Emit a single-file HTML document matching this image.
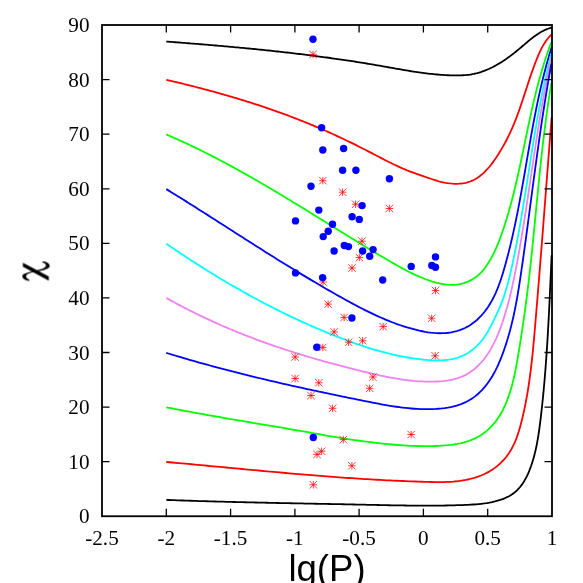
<!DOCTYPE html>
<html><head><meta charset="utf-8"><title>chart</title>
<style>html,body{margin:0;padding:0;background:#fff;overflow:hidden}svg{display:block}text{font-family:"Liberation Serif",serif;font-size:21.2px;fill:#000}.s{font-family:"Liberation Sans",sans-serif}</style></head>
<body>
<svg width="583" height="583" viewBox="0 0 583 583">
<rect width="583" height="583" fill="#fff"/>
<g fill="none" stroke-width="1.8" stroke-linejoin="round" stroke-linecap="butt">
<path d="M166.30,41.55 L168.13,41.69 L169.96,41.82 L171.78,41.96 L173.61,42.10 L175.44,42.24 L177.27,42.38 L179.09,42.52 L180.92,42.67 L182.75,42.81 L184.57,42.95 L186.40,43.09 L188.23,43.24 L190.05,43.38 L191.88,43.53 L193.71,43.67 L195.53,43.82 L197.36,43.97 L199.19,44.12 L201.01,44.27 L202.84,44.42 L204.67,44.57 L206.49,44.72 L208.32,44.87 L210.14,45.03 L211.97,45.18 L213.80,45.34 L215.62,45.49 L217.45,45.65 L219.27,45.81 L221.10,45.97 L222.92,46.13 L224.75,46.29 L226.57,46.45 L228.40,46.62 L230.22,46.78 L232.05,46.95 L233.87,47.11 L235.70,47.28 L237.52,47.45 L239.35,47.62 L241.17,47.79 L243.00,47.96 L244.82,48.14 L246.64,48.31 L248.47,48.49 L250.29,48.67 L252.12,48.84 L253.94,49.02 L255.76,49.21 L257.59,49.39 L259.41,49.57 L261.23,49.76 L263.05,49.95 L264.88,50.13 L266.70,50.32 L268.52,50.51 L270.34,50.71 L272.16,50.90 L273.99,51.10 L275.81,51.30 L277.63,51.49 L279.45,51.69 L281.27,51.90 L283.09,52.10 L284.91,52.31 L286.73,52.51 L288.55,52.72 L290.37,52.93 L292.19,53.14 L294.01,53.36 L295.83,53.57 L297.65,53.79 L299.47,54.01 L301.29,54.23 L303.10,54.45 L304.92,54.67 L306.74,54.90 L308.56,55.13 L310.37,55.36 L312.19,55.59 L314.01,55.82 L315.83,56.06 L317.64,56.30 L319.46,56.54 L321.27,56.78 L323.09,57.02 L324.91,57.27 L326.72,57.51 L328.54,57.76 L330.35,58.01 L332.16,58.27 L333.98,58.52 L335.79,58.78 L337.61,59.04 L339.42,59.30 L341.23,59.57 L343.04,59.83 L344.86,60.10 L346.67,60.37 L348.48,60.65 L350.29,60.92 L352.10,61.20 L353.91,61.48 L355.73,61.76 L357.54,62.05 L359.35,62.33 L361.16,62.62 L362.96,62.92 L364.77,63.21 L366.58,63.51 L368.39,63.81 L370.20,64.11 L372.01,64.41 L373.81,64.72 L375.62,65.03 L377.43,65.34 L379.23,65.65 L381.04,65.97 L382.85,66.29 L384.65,66.61 L386.46,66.93 L388.26,67.25 L390.07,67.57 L391.87,67.89 L393.68,68.22 L395.48,68.54 L397.29,68.85 L399.10,69.17 L400.90,69.48 L402.71,69.80 L404.52,70.10 L406.33,70.41 L408.13,70.70 L409.94,71.00 L411.75,71.29 L413.57,71.57 L415.38,71.85 L417.19,72.12 L419.00,72.38 L420.82,72.64 L422.64,72.88 L424.45,73.12 L426.27,73.35 L428.09,73.57 L429.91,73.78 L431.74,73.98 L433.56,74.17 L435.39,74.35 L437.22,74.52 L439.05,74.67 L440.88,74.81 L442.71,74.94 L444.55,75.05 L446.38,75.15 L448.22,75.24 L450.06,75.31 L451.91,75.37 L453.75,75.41 L455.60,75.43 L457.45,75.43 L459.29,75.40 L461.13,75.35 L462.97,75.26 L464.80,75.14 L466.63,74.98 L468.44,74.78 L470.24,74.54 L472.03,74.24 L473.81,73.90 L475.57,73.50 L477.32,73.06 L479.06,72.57 L480.78,72.04 L482.49,71.47 L484.19,70.85 L485.87,70.19 L487.54,69.49 L489.20,68.76 L490.85,67.99 L492.48,67.19 L494.10,66.35 L495.71,65.48 L497.31,64.58 L498.89,63.65 L500.46,62.69 L502.02,61.71 L503.57,60.70 L505.10,59.67 L506.62,58.62 L508.13,57.55 L509.63,56.46 L511.12,55.35 L512.60,54.23 L514.06,53.09 L515.52,51.94 L516.96,50.77 L518.39,49.60 L519.81,48.42 L521.21,47.23 L522.61,46.04 L524.01,44.84 L525.39,43.65 L526.78,42.47 L528.18,41.29 L529.58,40.13 L530.98,38.99 L532.41,37.87 L533.84,36.78 L535.30,35.71 L536.78,34.68 L538.29,33.69 L539.82,32.74 L541.39,31.83 L542.99,30.97 L544.63,30.17 L546.31,29.42 L548.04,28.73 L549.82,28.10 L551.65,27.55" stroke="#000000"/>
<path d="M166.31,79.79 L168.51,80.31 L170.71,80.82 L172.90,81.34 L175.10,81.87 L177.30,82.39 L179.49,82.93 L181.69,83.46 L183.88,84.00 L186.08,84.54 L188.27,85.09 L190.47,85.64 L192.66,86.19 L194.85,86.75 L197.04,87.31 L199.23,87.88 L201.42,88.45 L203.61,89.03 L205.80,89.61 L207.99,90.19 L210.17,90.78 L212.36,91.37 L214.54,91.97 L216.72,92.57 L218.90,93.18 L221.08,93.79 L223.26,94.41 L225.44,95.03 L227.61,95.66 L229.79,96.29 L231.96,96.93 L234.13,97.57 L236.30,98.22 L238.47,98.87 L240.64,99.52 L242.80,100.19 L244.96,100.86 L247.12,101.53 L249.28,102.21 L251.44,102.89 L253.60,103.58 L255.75,104.28 L257.90,104.98 L260.05,105.69 L262.20,106.40 L264.34,107.12 L266.48,107.85 L268.62,108.58 L270.76,109.32 L272.90,110.06 L275.03,110.81 L277.16,111.57 L279.29,112.33 L281.41,113.10 L283.54,113.88 L285.66,114.66 L287.78,115.45 L289.89,116.24 L292.00,117.04 L294.11,117.85 L296.22,118.67 L298.33,119.49 L300.43,120.32 L302.53,121.15 L304.62,121.99 L306.71,122.84 L308.81,123.70 L310.89,124.56 L312.98,125.43 L315.06,126.30 L317.14,127.18 L319.22,128.07 L321.29,128.97 L323.36,129.87 L325.43,130.77 L327.50,131.69 L329.56,132.61 L331.62,133.54 L333.68,134.47 L335.74,135.41 L337.79,136.36 L339.84,137.31 L341.89,138.27 L343.93,139.24 L345.97,140.21 L348.01,141.19 L350.05,142.17 L352.09,143.16 L354.12,144.16 L356.15,145.17 L358.17,146.18 L360.20,147.20 L362.22,148.22 L364.24,149.25 L366.25,150.29 L368.27,151.33 L370.28,152.38 L372.29,153.42 L374.30,154.47 L376.31,155.53 L378.32,156.57 L380.33,157.62 L382.35,158.66 L384.36,159.69 L386.38,160.72 L388.40,161.74 L390.43,162.74 L392.46,163.74 L394.50,164.72 L396.54,165.68 L398.59,166.63 L400.64,167.56 L402.70,168.47 L404.78,169.36 L406.85,170.23 L408.94,171.07 L411.04,171.89 L413.15,172.68 L415.27,173.45 L417.40,174.18 L419.54,174.90 L421.67,175.60 L423.80,176.31 L425.91,177.04 L428.01,177.78 L430.11,178.52 L432.22,179.25 L434.35,179.96 L436.51,180.63 L438.70,181.26 L440.94,181.83 L443.21,182.34 L445.50,182.79 L447.80,183.16 L450.12,183.45 L452.44,183.66 L454.75,183.78 L457.05,183.80 L459.33,183.71 L461.58,183.52 L463.80,183.21 L465.98,182.77 L468.10,182.21 L470.17,181.52 L472.18,180.69 L474.13,179.74 L476.03,178.67 L477.87,177.49 L479.66,176.20 L481.40,174.82 L483.09,173.35 L484.73,171.80 L486.32,170.18 L487.87,168.49 L489.37,166.74 L490.83,164.95 L492.25,163.10 L493.63,161.23 L494.98,159.32 L496.29,157.39 L497.56,155.45 L498.81,153.50 L500.02,151.55 L501.20,149.59 L502.35,147.62 L503.47,145.65 L504.56,143.68 L505.63,141.70 L506.67,139.71 L507.68,137.71 L508.67,135.70 L509.63,133.69 L510.58,131.67 L511.50,129.64 L512.39,127.59 L513.27,125.54 L514.13,123.48 L514.97,121.41 L515.79,119.32 L516.60,117.23 L517.39,115.12 L518.17,113.01 L518.93,110.88 L519.68,108.75 L520.42,106.61 L521.15,104.47 L521.88,102.32 L522.60,100.16 L523.31,98.01 L524.02,95.85 L524.72,93.68 L525.43,91.52 L526.13,89.35 L526.83,87.19 L527.54,85.02 L528.25,82.86 L528.97,80.70 L529.69,78.54 L530.41,76.38 L531.15,74.23 L531.90,72.09 L532.65,69.95 L533.42,67.82 L534.20,65.70 L535.00,63.58 L535.81,61.48 L536.64,59.38 L537.49,57.30 L538.36,55.22 L539.26,53.17 L540.19,51.13 L541.16,49.11 L542.19,47.13 L543.28,45.17 L544.44,43.25 L545.68,41.38 L547.01,39.55 L548.44,37.76 L549.97,36.04 L551.61,34.37" stroke="#ff0000"/>
<path d="M166.26,134.44 L168.78,135.52 L171.30,136.62 L173.81,137.72 L176.32,138.84 L178.82,139.96 L181.31,141.10 L183.80,142.24 L186.29,143.39 L188.77,144.56 L191.24,145.73 L193.71,146.91 L196.18,148.10 L198.64,149.30 L201.09,150.51 L203.54,151.72 L205.99,152.95 L208.43,154.18 L210.86,155.42 L213.29,156.67 L215.72,157.92 L218.15,159.19 L220.57,160.46 L222.98,161.73 L225.39,163.02 L227.80,164.31 L230.21,165.61 L232.61,166.91 L235.00,168.23 L237.40,169.54 L239.79,170.87 L242.17,172.20 L244.56,173.53 L246.94,174.87 L249.32,176.22 L251.69,177.57 L254.06,178.93 L256.43,180.29 L258.80,181.66 L261.16,183.03 L263.52,184.41 L265.88,185.79 L268.24,187.18 L270.59,188.57 L272.94,189.96 L275.29,191.36 L277.64,192.76 L279.99,194.17 L282.33,195.57 L284.68,196.99 L287.02,198.40 L289.36,199.82 L291.69,201.24 L294.03,202.66 L296.37,204.09 L298.70,205.52 L301.03,206.95 L303.37,208.38 L305.70,209.81 L308.03,211.25 L310.36,212.69 L312.69,214.12 L315.01,215.57 L317.34,217.01 L319.67,218.45 L322.00,219.89 L324.32,221.34 L326.65,222.78 L328.98,224.23 L331.31,225.67 L333.63,227.12 L335.96,228.56 L338.29,230.01 L340.62,231.45 L342.94,232.89 L345.27,234.34 L347.60,235.78 L349.93,237.22 L352.26,238.66 L354.60,240.09 L356.93,241.53 L359.26,242.96 L361.60,244.39 L363.93,245.81 L366.27,247.23 L368.60,248.65 L370.94,250.07 L373.28,251.47 L375.62,252.88 L377.96,254.28 L380.31,255.67 L382.65,257.06 L385.00,258.44 L387.35,259.82 L389.70,261.18 L392.05,262.55 L394.40,263.90 L396.76,265.24 L399.13,266.57 L401.51,267.87 L403.90,269.16 L406.30,270.43 L408.73,271.68 L411.17,272.89 L413.63,274.08 L416.11,275.23 L418.62,276.35 L421.16,277.43 L423.73,278.47 L426.33,279.47 L428.96,280.42 L431.61,281.30 L434.29,282.11 L436.98,282.84 L439.69,283.48 L442.41,284.00 L445.13,284.41 L447.85,284.69 L450.57,284.83 L453.27,284.82 L455.97,284.64 L458.64,284.29 L461.29,283.76 L463.90,283.06 L466.46,282.18 L468.96,281.13 L471.38,279.92 L473.71,278.55 L475.94,277.02 L478.05,275.33 L480.05,273.51 L481.93,271.55 L483.70,269.48 L485.37,267.31 L486.96,265.06 L488.46,262.74 L489.89,260.38 L491.25,257.98 L492.55,255.55 L493.79,253.10 L494.97,250.63 L496.11,248.13 L497.20,245.61 L498.24,243.08 L499.25,240.53 L500.22,237.96 L501.16,235.39 L502.08,232.80 L502.96,230.21 L503.83,227.61 L504.68,225.01 L505.51,222.40 L506.33,219.79 L507.12,217.17 L507.90,214.55 L508.66,211.92 L509.41,209.29 L510.14,206.66 L510.86,204.02 L511.57,201.38 L512.26,198.74 L512.94,196.09 L513.61,193.44 L514.26,190.79 L514.91,188.13 L515.54,185.47 L516.17,182.81 L516.79,180.15 L517.40,177.48 L518.00,174.81 L518.59,172.14 L519.18,169.47 L519.76,166.80 L520.34,164.13 L520.91,161.45 L521.47,158.77 L522.04,156.10 L522.60,153.42 L523.16,150.74 L523.71,148.06 L524.27,145.38 L524.82,142.70 L525.38,140.02 L525.93,137.35 L526.49,134.67 L527.05,131.99 L527.61,129.31 L528.17,126.63 L528.74,123.96 L529.31,121.28 L529.88,118.61 L530.47,115.94 L531.05,113.27 L531.65,110.60 L532.25,107.93 L532.86,105.27 L533.47,102.61 L534.10,99.95 L534.73,97.29 L535.38,94.64 L536.03,91.98 L536.70,89.34 L537.38,86.69 L538.07,84.05 L538.78,81.41 L539.50,78.78 L540.23,76.14 L540.97,73.52 L541.74,70.89 L542.52,68.28 L543.31,65.66 L544.12,63.05 L544.95,60.45 L545.80,57.85 L546.67,55.25 L547.56,52.66 L548.47,50.08 L549.39,47.50 L550.34,44.93 L551.32,42.36" stroke="#00ff00"/>
<path d="M166.31,189.12 L168.78,190.64 L171.26,192.16 L173.73,193.69 L176.20,195.22 L178.66,196.76 L181.13,198.30 L183.59,199.84 L186.06,201.38 L188.52,202.93 L190.98,204.48 L193.44,206.03 L195.90,207.58 L198.35,209.14 L200.81,210.70 L203.27,212.26 L205.72,213.82 L208.18,215.38 L210.63,216.95 L213.08,218.51 L215.54,220.08 L217.99,221.65 L220.44,223.22 L222.89,224.79 L225.34,226.36 L227.80,227.93 L230.25,229.50 L232.70,231.07 L235.15,232.64 L237.61,234.20 L240.06,235.77 L242.51,237.34 L244.97,238.91 L247.42,240.48 L249.88,242.04 L252.34,243.61 L254.79,245.17 L257.25,246.73 L259.71,248.29 L262.17,249.85 L264.63,251.40 L267.09,252.95 L269.56,254.51 L272.02,256.05 L274.49,257.60 L276.96,259.14 L279.43,260.68 L281.90,262.22 L284.38,263.75 L286.85,265.28 L289.33,266.81 L291.81,268.33 L294.29,269.85 L296.78,271.37 L299.26,272.88 L301.75,274.39 L304.24,275.89 L306.74,277.38 L309.23,278.88 L311.73,280.37 L314.23,281.85 L316.74,283.32 L319.25,284.80 L321.76,286.26 L324.27,287.72 L326.79,289.18 L329.31,290.63 L331.83,292.07 L334.36,293.51 L336.89,294.94 L339.42,296.36 L341.96,297.77 L344.50,299.18 L347.05,300.59 L349.60,301.98 L352.15,303.36 L354.71,304.74 L357.28,306.10 L359.85,307.44 L362.43,308.78 L365.02,310.09 L367.61,311.39 L370.22,312.66 L372.83,313.92 L375.46,315.15 L378.10,316.36 L380.74,317.55 L383.41,318.70 L386.08,319.83 L388.77,320.93 L391.47,322.00 L394.18,323.03 L396.92,324.03 L399.66,325.00 L402.43,325.93 L405.21,326.82 L408.01,327.67 L410.83,328.47 L413.66,329.24 L416.52,329.96 L419.40,330.64 L422.29,331.25 L425.19,331.80 L428.10,332.27 L431.02,332.66 L433.93,332.96 L436.85,333.16 L439.76,333.24 L442.67,333.21 L445.56,333.05 L448.44,332.75 L451.30,332.31 L454.13,331.73 L456.91,331.01 L459.66,330.14 L462.34,329.12 L464.96,327.96 L467.51,326.65 L469.98,325.19 L472.36,323.58 L474.65,321.84 L476.86,319.97 L478.97,317.99 L481.00,315.91 L482.93,313.73 L484.78,311.47 L486.53,309.15 L488.19,306.76 L489.75,304.31 L491.23,301.82 L492.62,299.28 L493.94,296.70 L495.19,294.08 L496.37,291.43 L497.48,288.74 L498.54,286.03 L499.55,283.28 L500.52,280.52 L501.44,277.74 L502.32,274.94 L503.18,272.14 L504.01,269.32 L504.82,266.50 L505.61,263.68 L506.38,260.85 L507.14,258.03 L507.89,255.20 L508.61,252.37 L509.33,249.53 L510.03,246.70 L510.71,243.86 L511.39,241.02 L512.05,238.18 L512.69,235.34 L513.33,232.49 L513.95,229.65 L514.57,226.80 L515.17,223.95 L515.76,221.10 L516.34,218.25 L516.92,215.40 L517.48,212.55 L518.04,209.69 L518.59,206.84 L519.13,203.98 L519.67,201.12 L520.20,198.26 L520.72,195.41 L521.24,192.55 L521.75,189.69 L522.26,186.83 L522.77,183.96 L523.27,181.10 L523.77,178.24 L524.26,175.38 L524.76,172.52 L525.25,169.65 L525.74,166.79 L526.23,163.93 L526.72,161.07 L527.21,158.21 L527.71,155.34 L528.20,152.48 L528.69,149.62 L529.19,146.76 L529.69,143.90 L530.19,141.04 L530.70,138.18 L531.21,135.32 L531.72,132.46 L532.24,129.61 L532.77,126.75 L533.30,123.90 L533.84,121.04 L534.38,118.19 L534.93,115.34 L535.49,112.49 L536.06,109.64 L536.64,106.79 L537.22,103.94 L537.82,101.10 L538.42,98.25 L539.04,95.41 L539.66,92.57 L540.30,89.73 L540.95,86.90 L541.62,84.06 L542.29,81.23 L542.98,78.40 L543.68,75.57 L544.40,72.74 L545.13,69.92 L545.88,67.10 L546.65,64.28 L547.42,61.46 L548.22,58.64 L549.03,55.83 L549.87,53.02 L550.71,50.22 L551.58,47.41" stroke="#0000ff"/>
<path d="M166.42,243.80 L168.85,245.46 L171.29,247.13 L173.73,248.78 L176.18,250.43 L178.63,252.07 L181.09,253.71 L183.55,255.33 L186.01,256.96 L188.48,258.57 L190.96,260.18 L193.44,261.78 L195.92,263.38 L198.41,264.96 L200.90,266.55 L203.40,268.12 L205.90,269.68 L208.40,271.24 L210.91,272.79 L213.43,274.34 L215.95,275.87 L218.47,277.40 L221.00,278.92 L223.53,280.43 L226.07,281.93 L228.62,283.43 L231.16,284.92 L233.72,286.40 L236.27,287.87 L238.83,289.33 L241.40,290.78 L243.97,292.23 L246.55,293.66 L249.13,295.09 L251.71,296.51 L254.30,297.92 L256.90,299.31 L259.50,300.70 L262.10,302.09 L264.71,303.46 L267.32,304.82 L269.94,306.17 L272.57,307.51 L275.20,308.85 L277.83,310.17 L280.47,311.48 L283.11,312.79 L285.76,314.08 L288.41,315.36 L291.07,316.63 L293.73,317.89 L296.40,319.15 L299.07,320.39 L301.75,321.62 L304.43,322.84 L307.12,324.04 L309.81,325.24 L312.51,326.43 L315.21,327.60 L317.91,328.77 L320.63,329.92 L323.34,331.06 L326.06,332.19 L328.79,333.31 L331.52,334.41 L334.26,335.51 L337.00,336.59 L339.75,337.66 L342.50,338.72 L345.26,339.76 L348.02,340.80 L350.79,341.81 L353.56,342.81 L356.34,343.80 L359.13,344.76 L361.92,345.71 L364.72,346.64 L367.53,347.54 L370.34,348.43 L373.16,349.29 L375.98,350.13 L378.81,350.94 L381.65,351.73 L384.50,352.49 L387.36,353.22 L390.22,353.93 L393.09,354.60 L395.97,355.25 L398.86,355.86 L401.75,356.44 L404.66,356.99 L407.57,357.50 L410.49,357.98 L413.43,358.42 L416.37,358.82 L419.32,359.19 L422.28,359.51 L425.25,359.80 L428.22,360.04 L431.21,360.23 L434.19,360.35 L437.16,360.40 L440.13,360.37 L443.07,360.24 L446.00,360.00 L448.89,359.64 L451.76,359.16 L454.58,358.53 L457.36,357.75 L460.09,356.81 L462.77,355.70 L465.38,354.41 L467.93,352.95 L470.40,351.33 L472.78,349.56 L475.06,347.66 L477.23,345.63 L479.29,343.49 L481.22,341.25 L483.04,338.92 L484.74,336.51 L486.36,334.03 L487.89,331.49 L489.35,328.91 L490.75,326.28 L492.10,323.63 L493.42,320.97 L494.72,318.30 L495.99,315.63 L497.24,312.95 L498.46,310.26 L499.64,307.57 L500.77,304.85 L501.86,302.13 L502.89,299.38 L503.86,296.61 L504.79,293.83 L505.67,291.03 L506.51,288.21 L507.31,285.38 L508.08,282.54 L508.81,279.69 L509.52,276.83 L510.21,273.97 L510.87,271.09 L511.52,268.22 L512.16,265.34 L512.78,262.46 L513.40,259.57 L514.00,256.69 L514.60,253.80 L515.18,250.91 L515.76,248.02 L516.32,245.13 L516.88,242.23 L517.43,239.34 L517.97,236.44 L518.51,233.54 L519.03,230.64 L519.55,227.73 L520.07,224.83 L520.57,221.92 L521.08,219.02 L521.57,216.11 L522.06,213.20 L522.55,210.29 L523.03,207.38 L523.51,204.47 L523.98,201.56 L524.45,198.65 L524.92,195.73 L525.39,192.82 L525.85,189.90 L526.31,186.99 L526.77,184.07 L527.23,181.16 L527.69,178.24 L528.14,175.33 L528.60,172.41 L529.06,169.50 L529.51,166.58 L529.97,163.67 L530.43,160.75 L530.89,157.84 L531.35,154.92 L531.82,152.01 L532.28,149.10 L532.75,146.19 L533.23,143.27 L533.70,140.36 L534.19,137.45 L534.67,134.54 L535.16,131.64 L535.66,128.73 L536.16,125.82 L536.66,122.92 L537.17,120.01 L537.69,117.11 L538.22,114.21 L538.75,111.31 L539.29,108.42 L539.84,105.52 L540.39,102.63 L540.96,99.73 L541.53,96.84 L542.11,93.95 L542.70,91.07 L543.31,88.18 L543.92,85.30 L544.54,82.42 L545.17,79.54 L545.82,76.67 L546.47,73.80 L547.14,70.93 L547.82,68.06 L548.52,65.19 L549.22,62.33 L549.94,59.47 L550.68,56.61 L551.42,53.76" stroke="#00ffff"/>
<path d="M166.27,297.92 L168.88,299.39 L171.50,300.84 L174.12,302.27 L176.74,303.70 L179.38,305.10 L182.02,306.49 L184.66,307.87 L187.31,309.24 L189.96,310.58 L192.63,311.92 L195.29,313.24 L197.96,314.55 L200.64,315.84 L203.32,317.12 L206.01,318.39 L208.70,319.64 L211.40,320.89 L214.11,322.11 L216.81,323.33 L219.53,324.53 L222.25,325.72 L224.97,326.89 L227.70,328.06 L230.43,329.21 L233.17,330.35 L235.91,331.48 L238.66,332.59 L241.41,333.70 L244.16,334.79 L246.92,335.87 L249.69,336.94 L252.46,337.99 L255.23,339.04 L258.01,340.07 L260.79,341.10 L263.58,342.11 L266.37,343.11 L269.16,344.10 L271.96,345.08 L274.76,346.05 L277.57,347.01 L280.38,347.96 L283.19,348.90 L286.01,349.82 L288.83,350.74 L291.65,351.65 L294.48,352.55 L297.31,353.44 L300.14,354.32 L302.98,355.19 L305.82,356.05 L308.67,356.91 L311.51,357.75 L314.36,358.59 L317.22,359.41 L320.07,360.23 L322.93,361.04 L325.80,361.84 L328.66,362.63 L331.53,363.42 L334.40,364.19 L337.27,364.96 L340.15,365.72 L343.03,366.47 L345.91,367.22 L348.79,367.95 L351.68,368.69 L354.57,369.41 L357.46,370.12 L360.35,370.83 L363.25,371.53 L366.14,372.23 L369.04,372.92 L371.94,373.60 L374.85,374.26 L377.75,374.91 L380.66,375.55 L383.58,376.17 L386.49,376.76 L389.41,377.33 L392.33,377.88 L395.25,378.40 L398.18,378.89 L401.10,379.35 L404.04,379.77 L406.97,380.16 L409.91,380.51 L412.86,380.81 L415.80,381.08 L418.75,381.29 L421.71,381.46 L424.66,381.58 L427.63,381.65 L430.59,381.66 L433.56,381.62 L436.54,381.51 L439.52,381.35 L442.50,381.11 L445.46,380.79 L448.41,380.37 L451.33,379.85 L454.22,379.19 L457.06,378.41 L459.85,377.47 L462.58,376.37 L465.24,375.10 L467.82,373.67 L470.32,372.08 L472.74,370.35 L475.05,368.49 L477.27,366.51 L479.39,364.42 L481.41,362.24 L483.33,359.96 L485.17,357.60 L486.92,355.16 L488.58,352.67 L490.16,350.11 L491.66,347.51 L493.08,344.88 L494.43,342.21 L495.70,339.53 L496.91,336.82 L498.07,334.09 L499.17,331.34 L500.22,328.58 L501.24,325.80 L502.21,323.01 L503.16,320.21 L504.07,317.40 L504.95,314.58 L505.80,311.75 L506.63,308.90 L507.42,306.05 L508.20,303.19 L508.95,300.32 L509.67,297.45 L510.38,294.57 L511.06,291.68 L511.72,288.79 L512.37,285.89 L513.00,282.98 L513.62,280.07 L514.22,277.16 L514.81,274.25 L515.39,271.33 L515.96,268.41 L516.52,265.49 L517.07,262.57 L517.61,259.65 L518.15,256.73 L518.68,253.80 L519.20,250.87 L519.72,247.95 L520.23,245.02 L520.73,242.09 L521.22,239.16 L521.72,236.23 L522.20,233.30 L522.68,230.37 L523.16,227.44 L523.63,224.50 L524.09,221.57 L524.56,218.63 L525.01,215.70 L525.47,212.76 L525.92,209.83 L526.37,206.89 L526.81,203.95 L527.26,201.02 L527.70,198.08 L528.14,195.14 L528.58,192.20 L529.01,189.26 L529.45,186.33 L529.88,183.39 L530.31,180.45 L530.75,177.51 L531.18,174.57 L531.61,171.63 L532.05,168.70 L532.48,165.76 L532.91,162.82 L533.35,159.88 L533.79,156.95 L534.23,154.01 L534.67,151.07 L535.11,148.14 L535.56,145.20 L536.01,142.27 L536.46,139.33 L536.92,136.40 L537.38,133.46 L537.84,130.53 L538.31,127.60 L538.78,124.67 L539.25,121.74 L539.74,118.81 L540.22,115.88 L540.71,112.95 L541.21,110.03 L541.72,107.10 L542.23,104.18 L542.74,101.25 L543.27,98.33 L543.80,95.41 L544.34,92.49 L544.88,89.57 L545.44,86.65 L546.00,83.74 L546.57,80.82 L547.15,77.91 L547.73,75.00 L548.33,72.09 L548.94,69.18 L549.55,66.27 L550.18,63.37 L550.82,60.46 L551.46,57.56" stroke="#ee82ee"/>
<path d="M166.23,352.85 L169.14,353.74 L172.04,354.62 L174.95,355.50 L177.86,356.37 L180.77,357.23 L183.68,358.09 L186.59,358.94 L189.51,359.78 L192.42,360.62 L195.34,361.45 L198.26,362.27 L201.18,363.09 L204.10,363.90 L207.02,364.71 L209.95,365.50 L212.87,366.30 L215.80,367.09 L218.72,367.87 L221.65,368.64 L224.58,369.41 L227.51,370.18 L230.44,370.94 L233.38,371.69 L236.31,372.44 L239.25,373.18 L242.19,373.92 L245.12,374.65 L248.06,375.38 L251.00,376.11 L253.94,376.82 L256.89,377.54 L259.83,378.25 L262.78,378.95 L265.72,379.65 L268.67,380.35 L271.62,381.04 L274.57,381.73 L277.52,382.41 L280.47,383.09 L283.42,383.76 L286.37,384.44 L289.33,385.10 L292.28,385.77 L295.24,386.43 L298.20,387.08 L301.15,387.74 L304.11,388.38 L307.07,389.03 L310.04,389.67 L313.00,390.31 L315.96,390.95 L318.92,391.58 L321.89,392.21 L324.86,392.84 L327.82,393.47 L330.79,394.09 L333.76,394.71 L336.73,395.33 L339.70,395.94 L342.67,396.55 L345.64,397.16 L348.61,397.77 L351.59,398.38 L354.56,398.98 L357.54,399.58 L360.51,400.18 L363.49,400.78 L366.47,401.38 L369.45,401.97 L372.43,402.56 L375.41,403.14 L378.39,403.71 L381.37,404.27 L384.36,404.81 L387.35,405.33 L390.34,405.83 L393.33,406.30 L396.32,406.75 L399.32,407.17 L402.32,407.56 L405.33,407.91 L408.33,408.22 L411.34,408.50 L414.36,408.73 L417.37,408.92 L420.40,409.06 L423.42,409.15 L426.45,409.18 L429.49,409.16 L432.53,409.08 L435.57,408.94 L438.62,408.73 L441.67,408.46 L444.72,408.10 L447.75,407.65 L450.75,407.10 L453.73,406.44 L456.66,405.65 L459.54,404.72 L462.36,403.65 L465.12,402.43 L467.80,401.05 L470.40,399.54 L472.90,397.89 L475.30,396.11 L477.60,394.22 L479.80,392.22 L481.90,390.12 L483.89,387.92 L485.80,385.63 L487.62,383.26 L489.35,380.81 L491.01,378.29 L492.58,375.69 L494.08,373.04 L495.51,370.34 L496.88,367.59 L498.18,364.80 L499.43,361.97 L500.61,359.11 L501.75,356.23 L502.84,353.33 L503.89,350.43 L504.89,347.51 L505.86,344.60 L506.79,341.68 L507.69,338.76 L508.55,335.83 L509.37,332.90 L510.17,329.97 L510.93,327.03 L511.66,324.09 L512.37,321.15 L513.05,318.20 L513.71,315.25 L514.34,312.30 L514.95,309.34 L515.53,306.39 L516.10,303.43 L516.65,300.47 L517.18,297.50 L517.69,294.53 L518.19,291.56 L518.68,288.59 L519.16,285.62 L519.62,282.64 L520.07,279.66 L520.52,276.68 L520.96,273.70 L521.39,270.71 L521.82,267.73 L522.25,264.74 L522.67,261.75 L523.09,258.76 L523.51,255.77 L523.93,252.77 L524.34,249.78 L524.76,246.78 L525.17,243.78 L525.58,240.78 L525.98,237.78 L526.39,234.78 L526.79,231.77 L527.20,228.77 L527.60,225.77 L528.00,222.76 L528.40,219.75 L528.80,216.75 L529.20,213.74 L529.60,210.73 L529.99,207.72 L530.39,204.71 L530.79,201.70 L531.19,198.69 L531.59,195.68 L531.98,192.67 L532.38,189.65 L532.78,186.64 L533.18,183.63 L533.59,180.62 L533.99,177.61 L534.39,174.60 L534.80,171.59 L535.20,168.57 L535.61,165.56 L536.02,162.55 L536.43,159.54 L536.85,156.53 L537.26,153.53 L537.68,150.52 L538.10,147.51 L538.52,144.50 L538.95,141.50 L539.38,138.49 L539.81,135.49 L540.24,132.48 L540.68,129.48 L541.12,126.48 L541.56,123.48 L542.01,120.48 L542.46,117.48 L542.92,114.49 L543.38,111.49 L543.84,108.50 L544.31,105.51 L544.78,102.52 L545.25,99.53 L545.74,96.54 L546.22,93.56 L546.71,90.58 L547.21,87.59 L547.71,84.61 L548.21,81.64 L548.73,78.66 L549.24,75.69 L549.77,72.72 L550.29,69.75 L550.83,66.78 L551.37,63.82" stroke="#0000ff"/>
<path d="M166.30,407.29 L169.37,407.89 L172.44,408.49 L175.51,409.08 L178.59,409.67 L181.66,410.25 L184.73,410.83 L187.81,411.40 L190.89,411.97 L193.96,412.54 L197.04,413.10 L200.12,413.66 L203.20,414.22 L206.28,414.77 L209.36,415.32 L212.45,415.87 L215.53,416.41 L218.61,416.95 L221.70,417.49 L224.78,418.03 L227.86,418.56 L230.95,419.10 L234.03,419.63 L237.12,420.16 L240.21,420.68 L243.29,421.21 L246.38,421.73 L249.46,422.26 L252.55,422.78 L255.63,423.30 L258.72,423.82 L261.81,424.34 L264.89,424.86 L267.98,425.38 L271.06,425.90 L274.15,426.42 L277.23,426.94 L280.31,427.46 L283.40,427.98 L286.48,428.50 L289.56,429.02 L292.64,429.54 L295.72,430.06 L298.80,430.59 L301.88,431.13 L304.95,431.67 L308.03,432.23 L311.10,432.79 L314.17,433.35 L317.24,433.92 L320.31,434.49 L323.39,435.05 L326.47,435.60 L329.55,436.14 L332.64,436.67 L335.73,437.19 L338.82,437.69 L341.92,438.18 L345.01,438.65 L348.11,439.12 L351.22,439.58 L354.32,440.02 L357.42,440.45 L360.52,440.88 L363.63,441.29 L366.73,441.70 L369.83,442.09 L372.93,442.47 L376.03,442.85 L379.12,443.20 L382.22,443.55 L385.32,443.87 L388.42,444.18 L391.52,444.48 L394.63,444.75 L397.73,445.00 L400.84,445.23 L403.95,445.44 L407.06,445.62 L410.18,445.78 L413.30,445.91 L416.42,446.01 L419.55,446.09 L422.68,446.13 L425.82,446.14 L428.96,446.12 L432.11,446.07 L435.27,445.98 L438.43,445.85 L441.59,445.68 L444.76,445.47 L447.92,445.19 L451.06,444.84 L454.18,444.42 L457.28,443.91 L460.35,443.29 L463.37,442.57 L466.36,441.73 L469.29,440.77 L472.17,439.66 L474.98,438.41 L477.73,437.00 L480.40,435.43 L482.99,433.71 L485.49,431.84 L487.88,429.83 L490.16,427.70 L492.33,425.45 L494.37,423.09 L496.29,420.63 L498.09,418.09 L499.77,415.46 L501.35,412.75 L502.83,409.98 L504.21,407.15 L505.51,404.27 L506.72,401.35 L507.85,398.40 L508.90,395.42 L509.89,392.42 L510.82,389.41 L511.69,386.38 L512.50,383.36 L513.27,380.32 L513.99,377.27 L514.67,374.22 L515.31,371.16 L515.92,368.10 L516.50,365.03 L517.05,361.96 L517.59,358.88 L518.11,355.80 L518.61,352.72 L519.11,349.64 L519.61,346.55 L520.10,343.46 L520.58,340.38 L521.06,337.29 L521.53,334.20 L522.00,331.10 L522.47,328.01 L522.92,324.92 L523.37,321.82 L523.82,318.72 L524.26,315.63 L524.69,312.53 L525.12,309.43 L525.54,306.33 L525.95,303.23 L526.36,300.12 L526.76,297.02 L527.15,293.92 L527.53,290.81 L527.91,287.71 L528.29,284.60 L528.65,281.49 L529.01,278.38 L529.37,275.28 L529.72,272.17 L530.07,269.06 L530.41,265.95 L530.75,262.84 L531.08,259.72 L531.41,256.61 L531.73,253.50 L532.06,250.39 L532.38,247.27 L532.69,244.16 L533.01,241.05 L533.32,237.93 L533.63,234.82 L533.94,231.70 L534.24,228.59 L534.55,225.47 L534.85,222.36 L535.15,219.24 L535.46,216.13 L535.76,213.01 L536.06,209.90 L536.36,206.78 L536.67,203.67 L536.97,200.55 L537.27,197.44 L537.58,194.32 L537.88,191.21 L538.19,188.10 L538.50,184.98 L538.82,181.87 L539.13,178.75 L539.45,175.64 L539.77,172.53 L540.09,169.42 L540.42,166.30 L540.75,163.19 L541.08,160.08 L541.42,156.97 L541.77,153.86 L542.11,150.75 L542.47,147.64 L542.82,144.54 L543.19,141.43 L543.56,138.32 L543.93,135.22 L544.31,132.11 L544.70,129.01 L545.09,125.90 L545.50,122.80 L545.90,119.70 L546.32,116.60 L546.74,113.50 L547.17,110.40 L547.61,107.30 L548.06,104.21 L548.52,101.11 L548.98,98.02 L549.46,94.92 L549.94,91.83 L550.43,88.74 L550.94,85.65 L551.45,82.56" stroke="#00ff00"/>
<path d="M166.19,461.95 L169.36,462.23 L172.53,462.52 L175.71,462.81 L178.87,463.10 L182.04,463.39 L185.21,463.68 L188.37,463.97 L191.54,464.26 L194.70,464.56 L197.86,464.85 L201.02,465.15 L204.17,465.44 L207.33,465.74 L210.49,466.04 L213.64,466.33 L216.79,466.63 L219.94,466.93 L223.10,467.22 L226.24,467.52 L229.39,467.82 L232.54,468.12 L235.69,468.41 L238.83,468.71 L241.98,469.00 L245.12,469.30 L248.27,469.59 L251.41,469.88 L254.56,470.17 L257.70,470.47 L260.84,470.75 L263.98,471.04 L267.12,471.33 L270.27,471.62 L273.41,471.90 L276.55,472.18 L279.69,472.46 L282.83,472.74 L285.97,473.02 L289.11,473.29 L292.25,473.56 L295.39,473.83 L298.53,474.10 L301.67,474.37 L304.81,474.63 L307.96,474.89 L311.10,475.15 L314.24,475.40 L317.38,475.66 L320.53,475.91 L323.67,476.15 L326.81,476.39 L329.96,476.63 L333.11,476.87 L336.25,477.10 L339.40,477.33 L342.55,477.56 L345.70,477.78 L348.85,478.00 L352.00,478.21 L355.15,478.42 L358.30,478.63 L361.46,478.83 L364.61,479.03 L367.77,479.22 L370.93,479.41 L374.09,479.59 L377.25,479.77 L380.41,479.95 L383.58,480.12 L386.74,480.28 L389.91,480.44 L393.08,480.59 L396.25,480.74 L399.42,480.89 L402.59,481.02 L405.77,481.16 L408.95,481.28 L412.13,481.41 L415.31,481.52 L418.49,481.63 L421.68,481.73 L424.86,481.83 L428.05,481.92 L431.24,482.00 L434.43,482.05 L437.62,482.08 L440.80,482.08 L443.98,482.03 L447.15,481.93 L450.31,481.78 L453.45,481.56 L456.59,481.27 L459.71,480.90 L462.81,480.45 L465.90,479.90 L468.96,479.25 L472.01,478.49 L475.03,477.62 L478.03,476.63 L480.99,475.51 L483.90,474.26 L486.75,472.87 L489.52,471.35 L492.22,469.68 L494.82,467.88 L497.31,465.94 L499.70,463.88 L501.98,461.70 L504.13,459.40 L506.15,457.00 L508.03,454.50 L509.76,451.91 L511.36,449.23 L512.84,446.48 L514.20,443.65 L515.45,440.77 L516.60,437.83 L517.67,434.84 L518.66,431.81 L519.58,428.75 L520.45,425.67 L521.26,422.57 L522.03,419.47 L522.78,416.36 L523.49,413.25 L524.17,410.14 L524.83,407.02 L525.45,403.91 L526.05,400.79 L526.63,397.67 L527.18,394.55 L527.70,391.43 L528.21,388.30 L528.69,385.18 L529.15,382.05 L529.60,378.92 L530.02,375.79 L530.43,372.66 L530.82,369.53 L531.20,366.40 L531.56,363.27 L531.91,360.13 L532.24,356.99 L532.57,353.86 L532.88,350.72 L533.19,347.58 L533.48,344.44 L533.77,341.30 L534.06,338.15 L534.33,335.01 L534.61,331.87 L534.88,328.72 L535.15,325.58 L535.41,322.43 L535.68,319.29 L535.94,316.14 L536.21,312.99 L536.47,309.84 L536.73,306.69 L536.99,303.54 L537.25,300.40 L537.51,297.25 L537.77,294.09 L538.03,290.94 L538.29,287.79 L538.54,284.64 L538.80,281.49 L539.06,278.34 L539.31,275.18 L539.56,272.03 L539.82,268.88 L540.07,265.72 L540.32,262.57 L540.57,259.41 L540.82,256.26 L541.07,253.10 L541.32,249.95 L541.57,246.79 L541.82,243.64 L542.07,240.48 L542.32,237.33 L542.56,234.17 L542.81,231.02 L543.06,227.86 L543.30,224.70 L543.55,221.55 L543.79,218.39 L544.04,215.24 L544.28,212.08 L544.53,208.93 L544.77,205.77 L545.02,202.62 L545.26,199.46 L545.51,196.30 L545.75,193.15 L545.99,189.99 L546.24,186.84 L546.48,183.69 L546.72,180.53 L546.97,177.38 L547.21,174.22 L547.45,171.07 L547.70,167.92 L547.94,164.76 L548.19,161.61 L548.43,158.46 L548.67,155.31 L548.92,152.16 L549.16,149.01 L549.41,145.86 L549.65,142.71 L549.90,139.56 L550.14,136.41 L550.39,133.26 L550.63,130.11 L550.88,126.96 L551.13,123.82 L551.37,120.67 L551.62,117.53" stroke="#ff0000"/>
<path d="M166.32,499.91 L169.03,500.02 L171.74,500.12 L174.45,500.21 L177.16,500.31 L179.87,500.41 L182.58,500.50 L185.29,500.59 L188.00,500.68 L190.71,500.77 L193.43,500.86 L196.14,500.94 L198.86,501.03 L201.57,501.11 L204.28,501.19 L207.00,501.27 L209.71,501.35 L212.43,501.43 L215.15,501.50 L217.86,501.58 L220.58,501.65 L223.30,501.72 L226.01,501.80 L228.73,501.87 L231.45,501.94 L234.17,502.00 L236.89,502.07 L239.60,502.14 L242.32,502.20 L245.04,502.27 L247.76,502.33 L250.48,502.39 L253.20,502.46 L255.92,502.52 L258.64,502.58 L261.36,502.64 L264.08,502.70 L266.79,502.76 L269.51,502.81 L272.23,502.87 L274.95,502.93 L277.67,502.98 L280.39,503.04 L283.11,503.10 L285.83,503.15 L288.55,503.21 L291.27,503.26 L293.99,503.31 L296.71,503.37 L299.43,503.42 L302.15,503.47 L304.86,503.53 L307.58,503.58 L310.30,503.63 L313.02,503.69 L315.74,503.74 L318.45,503.79 L321.17,503.85 L323.89,503.90 L326.60,503.95 L329.32,504.00 L332.04,504.06 L334.75,504.11 L337.47,504.16 L340.18,504.22 L342.90,504.27 L345.61,504.33 L348.33,504.38 L351.04,504.44 L353.75,504.49 L356.47,504.55 L359.18,504.60 L361.89,504.66 L364.60,504.72 L367.31,504.78 L370.02,504.84 L372.73,504.89 L375.44,504.95 L378.15,505.01 L380.86,505.07 L383.57,505.12 L386.28,505.18 L388.98,505.23 L391.69,505.28 L394.40,505.33 L397.11,505.38 L399.82,505.42 L402.53,505.46 L405.24,505.50 L407.95,505.53 L410.66,505.56 L413.37,505.59 L416.08,505.61 L418.79,505.63 L421.51,505.64 L424.22,505.65 L426.94,505.65 L429.65,505.65 L432.37,505.64 L435.09,505.62 L437.80,505.60 L440.52,505.57 L443.24,505.53 L445.97,505.48 L448.69,505.43 L451.41,505.37 L454.14,505.30 L456.87,505.22 L459.60,505.14 L462.33,505.04 L465.06,504.94 L467.79,504.82 L470.52,504.67 L473.25,504.51 L475.98,504.30 L478.70,504.06 L481.42,503.77 L484.13,503.43 L486.83,503.03 L489.52,502.57 L492.20,502.04 L494.87,501.43 L497.52,500.73 L500.13,499.95 L502.69,499.05 L505.18,498.05 L507.60,496.93 L509.93,495.67 L512.16,494.28 L514.27,492.74 L516.26,491.05 L518.12,489.21 L519.87,487.25 L521.50,485.16 L523.03,482.97 L524.46,480.68 L525.80,478.30 L527.04,475.85 L528.20,473.34 L529.28,470.79 L530.29,468.19 L531.23,465.57 L532.10,462.94 L532.92,460.30 L533.69,457.66 L534.40,455.01 L535.07,452.35 L535.69,449.70 L536.27,447.03 L536.81,444.37 L537.31,441.70 L537.78,439.03 L538.23,436.35 L538.64,433.68 L539.04,431.00 L539.41,428.31 L539.76,425.63 L540.11,422.94 L540.44,420.25 L540.76,417.56 L541.08,414.87 L541.38,412.18 L541.69,409.49 L541.98,406.79 L542.27,404.10 L542.55,401.40 L542.83,398.70 L543.10,396.00 L543.36,393.30 L543.61,390.60 L543.87,387.90 L544.11,385.20 L544.35,382.49 L544.58,379.79 L544.81,377.08 L545.04,374.37 L545.25,371.67 L545.47,368.96 L545.67,366.25 L545.88,363.54 L546.08,360.83 L546.27,358.12 L546.46,355.41 L546.65,352.69 L546.83,349.98 L547.01,347.27 L547.18,344.56 L547.35,341.84 L547.52,339.13 L547.68,336.41 L547.84,333.70 L548.00,330.98 L548.15,328.27 L548.31,325.55 L548.45,322.84 L548.60,320.12 L548.74,317.41 L548.88,314.69 L549.02,311.98 L549.16,309.26 L549.29,306.54 L549.43,303.83 L549.56,301.11 L549.69,298.40 L549.82,295.68 L549.94,292.97 L550.07,290.25 L550.19,287.54 L550.32,284.83 L550.44,282.11 L550.56,279.40 L550.69,276.69 L550.81,273.98 L550.93,271.27 L551.05,268.55 L551.17,265.84 L551.29,263.13 L551.41,260.43 L551.54,257.72 L551.66,255.01" stroke="#000000"/>
</g>
<g stroke="#ff0000" stroke-width="0.75" fill="none">
<path d="M309.2,54.4H316.8M313.0,50.7V58.2M309.2,50.7L316.8,58.2M309.2,58.2L316.8,50.7"/>
<path d="M319.1,180.7H326.6M322.8,176.9V184.4M319.1,176.9L326.6,184.4M319.1,184.4L326.6,176.9"/>
<path d="M338.9,192.2H346.4M342.6,188.5V196.0M338.9,188.5L346.4,196.0M338.9,196.0L346.4,188.5"/>
<path d="M351.9,204.2H359.4M355.6,200.5V208.0M351.9,200.5L359.4,208.0M351.9,208.0L359.4,200.5"/>
<path d="M385.6,208.5H393.1M389.4,204.7V212.2M385.6,204.7L393.1,212.2M385.6,212.2L393.1,204.7"/>
<path d="M358.2,241.2H365.8M362.0,237.4V244.9M358.2,237.4L365.8,244.9M358.2,244.9L365.8,237.4"/>
<path d="M355.6,257.5H363.1M359.3,253.8V261.3M355.6,253.8L363.1,261.3M355.6,261.3L363.1,253.8"/>
<path d="M348.2,268.0H355.8M352.0,264.3V271.8M348.2,264.3L355.8,271.8M348.2,271.8L355.8,264.3"/>
<path d="M319.2,282.0H326.8M323.0,278.3V285.8M319.2,278.3L326.8,285.8M319.2,285.8L326.8,278.3"/>
<path d="M324.4,304.1H331.9M328.1,300.4V307.9M324.4,300.4L331.9,307.9M324.4,307.9L331.9,300.4"/>
<path d="M431.8,290.5H439.2M435.5,286.8V294.3M431.8,286.8L439.2,294.3M431.8,294.3L439.2,286.8"/>
<path d="M340.4,317.4H347.9M344.1,313.7V321.2M340.4,313.7L347.9,321.2M340.4,321.2L347.9,313.7"/>
<path d="M427.9,318.2H435.4M431.7,314.5V322.0M427.9,314.5L435.4,322.0M427.9,322.0L435.4,314.5"/>
<path d="M379.4,326.6H386.9M383.2,322.9V330.4M379.4,322.9L386.9,330.4M379.4,330.4L386.9,322.9"/>
<path d="M330.4,331.9H337.9M334.1,328.2V335.7M330.4,328.2L337.9,335.7M330.4,335.7L337.9,328.2"/>
<path d="M358.9,340.8H366.4M362.6,337.0V344.5M358.9,337.0L366.4,344.5M358.9,344.5L366.4,337.0"/>
<path d="M344.9,342.2H352.4M348.6,338.5V346.0M344.9,338.5L352.4,346.0M344.9,346.0L352.4,338.5"/>
<path d="M319.1,347.4H326.6M322.8,343.7V351.2M319.1,343.7L326.6,351.2M319.1,351.2L326.6,343.7"/>
<path d="M431.4,355.8H438.9M435.2,352.0V359.5M431.4,352.0L438.9,359.5M431.4,359.5L438.9,352.0"/>
<path d="M291.4,357.0H298.9M295.1,353.3V360.8M291.4,353.3L298.9,360.8M291.4,360.8L298.9,353.3"/>
<path d="M369.1,377.0H376.6M372.9,373.3V380.8M369.1,373.3L376.6,380.8M369.1,380.8L376.6,373.3"/>
<path d="M291.4,378.5H298.9M295.1,374.8V382.3M291.4,374.8L298.9,382.3M291.4,382.3L298.9,374.8"/>
<path d="M315.1,382.8H322.6M318.8,379.0V386.5M315.1,379.0L322.6,386.5M315.1,386.5L322.6,379.0"/>
<path d="M365.9,388.3H373.4M369.6,384.6V392.1M365.9,384.6L373.4,392.1M365.9,392.1L373.4,384.6"/>
<path d="M307.2,395.5H314.8M311.0,391.8V399.3M307.2,391.8L314.8,399.3M307.2,399.3L314.8,391.8"/>
<path d="M328.9,408.3H336.4M332.6,404.6V412.1M328.9,404.6L336.4,412.1M328.9,412.1L336.4,404.6"/>
<path d="M407.4,434.5H414.9M411.2,430.8V438.3M407.4,430.8L414.9,438.3M407.4,438.3L414.9,430.8"/>
<path d="M339.6,439.6H347.1M343.3,435.9V443.4M339.6,435.9L347.1,443.4M339.6,443.4L347.1,435.9"/>
<path d="M317.9,451.2H325.4M321.6,447.5V455.0M317.9,447.5L325.4,455.0M317.9,455.0L325.4,447.5"/>
<path d="M313.2,454.4H320.8M317.0,450.7V458.2M313.2,450.7L320.8,458.2M313.2,458.2L320.8,450.7"/>
<path d="M348.1,465.8H355.6M351.9,462.0V469.5M348.1,462.0L355.6,469.5M348.1,469.5L355.6,462.0"/>
<path d="M309.6,484.8H317.1M313.3,481.0V488.5M309.6,481.0L317.1,488.5M309.6,488.5L317.1,481.0"/>
</g>
<g fill="#0000ff">
<circle cx="313.0" cy="39.3" r="3.7"/>
<circle cx="321.6" cy="127.7" r="3.7"/>
<circle cx="322.8" cy="150.0" r="3.7"/>
<circle cx="343.6" cy="148.5" r="3.7"/>
<circle cx="342.6" cy="170.3" r="3.7"/>
<circle cx="355.9" cy="170.3" r="3.7"/>
<circle cx="389.4" cy="178.8" r="3.7"/>
<circle cx="311.0" cy="186.3" r="3.7"/>
<circle cx="362.1" cy="205.6" r="3.7"/>
<circle cx="318.8" cy="210.1" r="3.7"/>
<circle cx="352.1" cy="216.8" r="3.7"/>
<circle cx="359.3" cy="219.4" r="3.7"/>
<circle cx="295.5" cy="220.9" r="3.7"/>
<circle cx="332.5" cy="224.2" r="3.7"/>
<circle cx="328.2" cy="231.3" r="3.7"/>
<circle cx="323.2" cy="236.6" r="3.7"/>
<circle cx="344.3" cy="245.5" r="3.7"/>
<circle cx="348.5" cy="246.6" r="3.7"/>
<circle cx="334.1" cy="251.0" r="3.7"/>
<circle cx="362.6" cy="251.0" r="3.7"/>
<circle cx="373.1" cy="249.6" r="3.7"/>
<circle cx="369.7" cy="256.2" r="3.7"/>
<circle cx="411.2" cy="266.4" r="3.7"/>
<circle cx="435.5" cy="256.9" r="3.7"/>
<circle cx="431.8" cy="265.5" r="3.7"/>
<circle cx="435.5" cy="267.3" r="3.7"/>
<circle cx="382.7" cy="280.0" r="3.7"/>
<circle cx="295.5" cy="272.9" r="3.7"/>
<circle cx="322.6" cy="277.6" r="3.7"/>
<circle cx="351.9" cy="318.0" r="3.7"/>
<circle cx="316.8" cy="347.3" r="3.7"/>
<circle cx="313.3" cy="437.5" r="3.7"/>
</g>
<g stroke="#000" fill="none"><rect x="102.0" y="25.0" width="450.0" height="491.25" stroke-width="1.8"/>
<path d="M166.3,516.25v-7.5M166.3,25.0v7.5M230.6,516.25v-7.5M230.6,25.0v7.5M294.9,516.25v-7.5M294.9,25.0v7.5M359.1,516.25v-7.5M359.1,25.0v7.5M423.4,516.25v-7.5M423.4,25.0v7.5M487.7,516.25v-7.5M487.7,25.0v7.5M102.0,461.7h7.5M552.0,461.7h-7.5M102.0,407.1h7.5M552.0,407.1h-7.5M102.0,352.5h7.5M552.0,352.5h-7.5M102.0,297.9h7.5M552.0,297.9h-7.5M102.0,243.3h7.5M552.0,243.3h-7.5M102.0,188.8h7.5M552.0,188.8h-7.5M102.0,134.2h7.5M552.0,134.2h-7.5M102.0,79.6h7.5M552.0,79.6h-7.5" stroke-width="1.3"/></g>
<g opacity="0.999">
<text x="102.0" y="544.6" text-anchor="middle">-2.5</text>
<text x="166.3" y="544.6" text-anchor="middle">-2</text>
<text x="230.6" y="544.6" text-anchor="middle">-1.5</text>
<text x="294.9" y="544.6" text-anchor="middle">-1</text>
<text x="359.1" y="544.6" text-anchor="middle">-0.5</text>
<text x="423.4" y="544.6" text-anchor="middle">0</text>
<text x="487.7" y="544.6" text-anchor="middle">0.5</text>
<text x="552.0" y="544.6" text-anchor="middle">1</text>
<text x="89.5" y="523.4" text-anchor="end">0</text>
<text x="89.5" y="468.8" text-anchor="end">10</text>
<text x="89.5" y="414.2" text-anchor="end">20</text>
<text x="89.5" y="359.6" text-anchor="end">30</text>
<text x="89.5" y="305.0" text-anchor="end">40</text>
<text x="89.5" y="250.4" text-anchor="end">50</text>
<text x="89.5" y="195.8" text-anchor="end">60</text>
<text x="89.5" y="141.3" text-anchor="end">70</text>
<text x="89.5" y="86.7" text-anchor="end">80</text>
<text x="89.5" y="32.1" text-anchor="end">90</text>
<text class="s" x="327" y="580.7" text-anchor="middle" style="font-size:36.6px">lg(P)</text>
<g transform="translate(16,251) scale(0.06861)" fill="#000"><path d="M100,170L478,372L478,432L100,228Z"/><path d="M385,152C440,152 492,180 492,215C492,262 400,285 290,302L290,285C380,268 437,245 437,212C437,185 410,170 385,165Z"/><path d="M290,287C200,305 92,325 92,368C92,405 140,435 197,437L192,415C165,408 147,390 147,368C147,335 220,320 290,303Z"/></g>
</g>
</svg>
</body></html>
